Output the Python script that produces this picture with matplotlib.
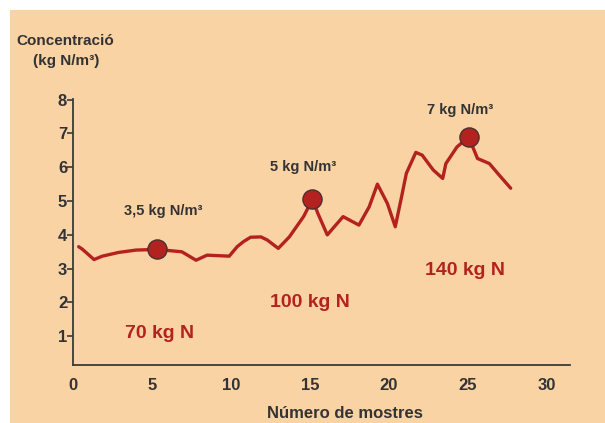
import matplotlib
matplotlib.use("Agg")
import matplotlib.pyplot as plt
from matplotlib.patches import Rectangle

# Data
sample_x = [0.38, 0.6, 1.35, 1.87, 2.9, 4.0, 5.3, 6.9, 7.8, 8.5, 9.9, 10.4, 10.8, 11.25,
            11.9, 12.3, 13.0, 13.7, 14.6, 15.16, 15.5, 16.1, 17.1, 18.1, 18.75, 19.27,
            19.9, 20.4, 20.8, 21.1, 21.7, 22.1, 22.8, 23.4, 23.6, 24.3, 25.04, 25.6,
            26.35, 26.97, 27.7]
concentration = [3.65, 3.58, 3.27, 3.37, 3.48, 3.55, 3.57, 3.5, 3.25, 3.4, 3.37, 3.65, 3.8, 3.93,
                 3.94, 3.85, 3.6, 3.94, 4.54, 5.05, 4.64, 4.0, 4.54, 4.29, 4.83, 5.5,
                 4.93, 4.24, 5.13, 5.82, 6.44, 6.36, 5.92, 5.67, 6.11, 6.6, 6.9, 6.26,
                 6.11, 5.77, 5.38]
marker_x = [5.3, 15.16, 25.04]
marker_y = [3.57, 5.05, 6.9]
marker_labels = ["3,5 kg N/m³", "5 kg N/m³", "7 kg N/m³"]
marker_label_pos = [(5.7, 4.7), (14.6, 6.0), (24.5, 7.7)]
dose_labels = ["70 kg N", "100 kg N", "140 kg N"]
dose_label_pos = [(5.5, 1.07), (15.0, 2.0), (24.8, 2.96)]
xticks = [0, 5, 10, 15, 20, 25, 30]
yticks = [1, 2, 3, 4, 5, 6, 7, 8]

W, H = 605, 423
BG = "#F9D3A4"
RED = "#B3221E"
DARK = "#333333"
plt.rcParams['font.family'] = ['Liberation Sans', 'DejaVu Sans']

fig = plt.figure(figsize=(W / 100, H / 100), dpi=100, facecolor="white")
fig.patches.append(Rectangle((10 / W, 0), 1 - 10 / W, 1 - 10 / H, transform=fig.transFigure,
                             facecolor=BG, edgecolor="none", zorder=-10))

ax = fig.add_axes([72.7 / W, (H - 365) / H, (570 - 72.7) / W, (365 - 99) / H])
ax.set_facecolor("none")
ax.set_xlim(0.375, 31.45)
ax.set_ylim(0.15, 8.02)

ax.plot(sample_x, concentration, color=RED, lw=2.4, solid_joinstyle="round",
        solid_capstyle="round", zorder=3)
ax.scatter(marker_x, marker_y, s=190, color=RED, edgecolor="#4a3030", linewidths=1.0, zorder=4)

for lab, (x, y) in zip(marker_labels, marker_label_pos):
    ax.text(x, y, lab, ha="center", va="center", fontsize=10.5, fontweight="bold", color=DARK)
for lab, (x, y) in zip(dose_labels, dose_label_pos):
    ax.text(x, y, lab, ha="center", va="center", fontsize=14, fontweight="bold", color=RED)

for side in ["top", "right"]:
    ax.spines[side].set_visible(False)
for side in ["left", "bottom"]:
    ax.spines[side].set_color("#3a3a3a")
    ax.spines[side].set_linewidth(1.3)

ax.set_xticks(xticks)
ax.set_xticklabels([str(t) for t in xticks], fontsize=12, fontweight="bold", color=DARK)
ax.set_yticks(yticks)
ax.set_yticklabels([str(t) for t in yticks], fontsize=12, fontweight="bold", color=DARK)
ax.tick_params(axis="x", length=0, pad=9)
ax.tick_params(axis="y", length=4, width=1.2, color="#3a3a3a", pad=0)

fig.text(65 / W, 1 - 41 / H, "Concentració", ha="center", va="center", fontsize=11,
         fontweight="bold", color=DARK)
fig.text(66 / W, 1 - 61 / H, "(kg N/m³)", ha="center", va="center", fontsize=11,
         fontweight="bold", color=DARK)
fig.text(345 / W, 1 - 413 / H, "Número de mostres", ha="center", va="center", fontsize=12,
         fontweight="bold", color=DARK)

fig.savefig("out.png", dpi=100, facecolor="white")
